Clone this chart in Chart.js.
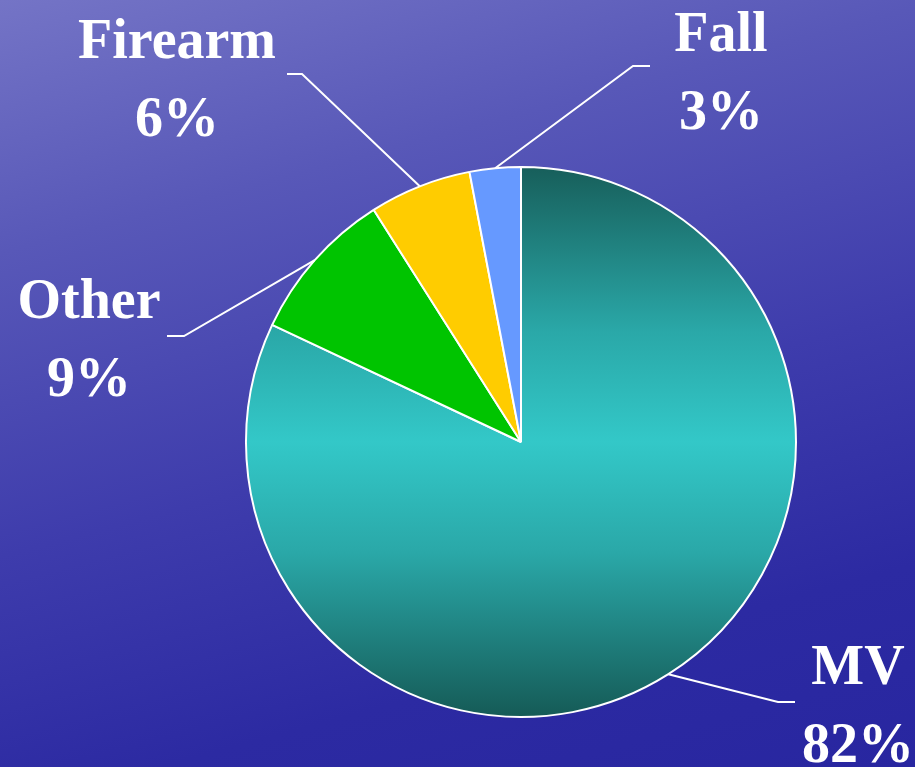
<!DOCTYPE html>
<html>
<head>
<meta charset="utf-8">
<script src="https://cdn.jsdelivr.net/npm/chart.js@4.4.0/dist/chart.umd.min.js"></script>
<style>
  html, body { margin: 0; padding: 0; }
  body {
    width: 915px; height: 767px; overflow: hidden;
    background: linear-gradient(165deg, #7474c6 0%, #5858b8 25%, #3e3cac 55%, #2c2aa2 80%, #2826a0 100%);
  }
  #wrap { position: relative; width: 915px; height: 767px; }
</style>
</head>
<body>
<div id="wrap"><canvas id="grafico" width="915" height="767"></canvas></div>
<script>
// datos del grafico
var categorias = ['MV', 'Other', 'Firearm', 'Fall'];
var porcentajes = [82, 9, 6, 3];
var colores = ['#33c8c8', '#00c400', '#ffcc00', '#6699ff'];

// posicion de las etiquetas (codo de la linea, fin de la linea, texto)
var etiquetas = [
    { codo: [778, 702], fin: [795, 702], texto: [858, 684] },
    { codo: [184, 336], fin: [167, 336], texto: [89, 318] },
    { codo: [302, 74],  fin: [287, 74],  texto: [177, 58] },
    { codo: [633, 66],  fin: [650, 66],  texto: [721, 51] }
];

function gradienteMV(context){
    var chart = context.chart;
    var area = chart.chartArea;
    if(!area) return colores[0];
    var g = chart.ctx.createLinearGradient(0, area.top, 0, area.bottom);
    g.addColorStop(0, '#175e5a');
    g.addColorStop(0.3, '#2aa8a8');
    g.addColorStop(0.5, '#33c8c8');
    g.addColorStop(0.7, '#2aa8a8');
    g.addColorStop(1, '#155a56');
    return g;
}

var lineasEtiquetas = {
    id: 'lineasEtiquetas',
    afterDraw: function(chart){
        var ctx = chart.ctx;
        var arcos = chart.getDatasetMeta(0).data;
        ctx.save();
        arcos.forEach(function(arco, i){
            var p = arco.getProps(['x', 'y', 'startAngle', 'endAngle', 'outerRadius'], true);
            var medio = (p.startAngle + p.endAngle) / 2;
            var bx = p.x + Math.cos(medio) * p.outerRadius;
            var by = p.y + Math.sin(medio) * p.outerRadius;
            var e = etiquetas[i];
            ctx.strokeStyle = '#ffffff';
            ctx.lineWidth = 2;
            ctx.beginPath();
            ctx.moveTo(bx, by);
            ctx.lineTo(e.codo[0], e.codo[1]);
            ctx.lineTo(e.fin[0], e.fin[1]);
            ctx.stroke();

            ctx.fillStyle = '#ffffff';
            ctx.font = 'bold 56px "Liberation Serif", "Times New Roman", serif';
            ctx.textAlign = 'center';
            ctx.textBaseline = 'alphabetic';
            ctx.fillText(categorias[i], e.texto[0], e.texto[1]);
            ctx.fillText(porcentajes[i] + '%', e.texto[0], e.texto[1] + 78);
        });
        ctx.restore();
    }
};

new Chart(document.getElementById('grafico'), {
    type: 'pie',
    data: {
        labels: categorias,
        datasets: [{
            data: porcentajes,
            backgroundColor: function(context){
                if(context.dataIndex === 0) return gradienteMV(context);
                return colores[context.dataIndex];
            },
            borderColor: '#ffffff',
            borderWidth: 2
        }]
    },
    options: {
        responsive: false,
        animation: false,
        layout: {
            padding: { top: 166, bottom: 49, left: 244, right: 117 }
        },
        plugins: {
            legend: { display: false },
            tooltip: { enabled: false }
        }
    },
    plugins: [lineasEtiquetas]
});
</script>
</body>
</html>
